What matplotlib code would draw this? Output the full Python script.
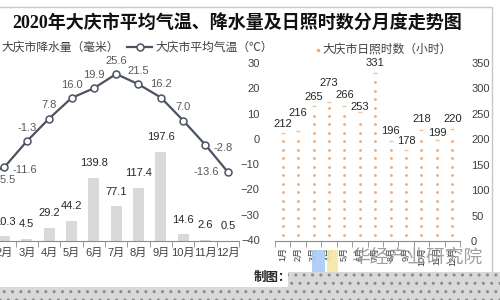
import numpy as np
import matplotlib.pyplot as plt
from matplotlib.patches import Rectangle
from matplotlib.lines import Line2D

plt.rcParams['font.family'] = ['Liberation Sans', 'Noto Sans CJK SC']

months = [f"{m}月" for m in range(1, 13)]
precip = [3.1, 10.3, 4.5, 29.2, 44.2, 139.8, 77.1, 117.4, 197.6, 14.6, 2.6, 0.5]
temp = [-15.5, -11.6, -1.3, 7.8, 16.0, 19.9, 25.6, 21.5, 16.2, 7.0, -2.8, -13.6]
sunshine = [212, 216, 265, 273, 266, 253, 331, 196, 178, 218, 199, 220]

# label placement for the temperature points
temp_pos = ["right", "right", "up", "up", "up", "up", "up", "up", "up", "up", "right", "left"]
sun_lift = [10, 19, 10, 20, 11, 6, 10, 11, 10, 12, 7, 11]

W, H = 500, 300
fig = plt.figure(figsize=(5, 3), dpi=100)
fig.patch.set_facecolor("white")


def fx(px):
    return px / W


def fy(py):
    return 1 - py / H


x = np.arange(12)

# ---------- left panel: precipitation + temperature ----------
ax1 = fig.add_axes([fx(-29), fy(241), fx(268), (241 - 63) / H])
ax1t = ax1.twinx()
ax1.bar(x, precip, width=0.5, color="#d9d9d9", zorder=1)
ax1.set_ylim(0, (241 - 63) / 0.45)
ax1.set_xlim(-0.5, 11.5)
for s in ["top", "left", "right"]:
    ax1.spines[s].set_visible(False)
ax1.spines["bottom"].set_color("#8c8c8c")
ax1.set_yticks([])
ax1.set_xticks(x)
ax1.set_xticklabels(months, fontsize=8, color="#404040")
ax1.set_xticks(np.arange(-0.5, 12, 1), minor=True)
ax1.tick_params(axis="x", which="major", length=0, pad=5)
ax1.tick_params(axis="x", which="minor", length=4, color="#8c8c8c")
for xi, v in zip(x, precip):
    if xi == 0:
        continue
    ax1.annotate(f"{v}", (xi, v), xytext=(0, 7), textcoords="offset points",
                 ha="center", va="bottom", fontsize=8, color="#262626")

ax1t.plot(x, temp, color="#4b5262", lw=1.6, marker="o", ms=5,
          mfc="white", mec="#4b5262", mew=1.1, zorder=3)
ax1t.set_ylim(-(241 - 138) / 2.5, (138 - 63) / 2.5)
ax1t.set_yticks([])
for s in ["top", "left", "right", "bottom"]:
    ax1t.spines[s].set_visible(False)
offs = {"up": ((0, 6), "center", "bottom"),
        "right": ((6, -2), "left", "center"),
        "left": ((-6, 0), "right", "center")}
for xi, v, p in zip(x, temp, temp_pos):
    (dx, dy), ha, va = offs[p]
    ax1t.annotate(f"{v}", (xi, v), xytext=(dx, dy), textcoords="offset points",
                  ha=ha, va=va, fontsize=8, color="#595959")

# ---------- right panel: sunshine hours ----------
ax2 = fig.add_axes([fx(275), fy(241), fx(185), (241 - 63) / H])
ax2t = ax2.twinx()
step = 16.7
for xi, v in zip(x, sunshine):
    ys = np.arange(12, v - 10, step)
    ax2.scatter(np.full_like(ys, xi, dtype=float), ys, s=4, color="#f0a873",
                linewidths=0, zorder=2)
    ax2.plot([xi], [v], marker="_", ms=3, color="#f3c39c", mew=1)
    ax2.annotate(f"{v}", (xi, v), xytext=(0, sun_lift[xi] * 0.72 - 4),
                 textcoords="offset points", ha="center", va="bottom",
                 fontsize=8, color="#262626")
ax2.set_ylim(0, 350)
ax2.set_xlim(-0.5, 11.5)
ax2.set_yticks([])
for s in ["top", "left", "right"]:
    ax2.spines[s].set_visible(False)
ax2.spines["bottom"].set_color("#8c8c8c")
ax2.set_xticks(x)
ax2.set_xticklabels(months, rotation=90, fontsize=6.5, color="#404040")
ax2.set_xticks(np.arange(-0.5, 12, 1), minor=True)
ax2.tick_params(axis="x", which="major", length=0, pad=4)
ax2.tick_params(axis="x", which="minor", length=4, color="#8c8c8c")

# hours on the right, temperature scale on the left
ax2t.set_ylim(0, 350)
ax2t.set_yticks(np.arange(0, 351, 50))
ax2t.tick_params(axis="y", length=0, pad=8, labelsize=8, labelcolor="#404040")
for s in ["top", "left", "right", "bottom"]:
    ax2t.spines[s].set_visible(False)
ax2l = ax2.secondary_yaxis("left", functions=(lambda h: h * 70.4 / 350 - 40.4,
                                               lambda t: (t + 40.4) * 350 / 70.4))
ax2l.set_yticks(np.arange(-40, 31, 10))
ax2l.tick_params(axis="y", length=0, pad=11, labelsize=8, labelcolor="#404040")
ax2l.spines["left"].set_visible(False)

# ---------- title, legends, frame ----------
fig.text(fx(12), fy(23), "2020年大庆市平均气温、降水量及日照时数分月度走势图",
         fontsize=13, fontweight="bold", color="#111111", va="center",
         family=["Liberation Serif", "Noto Sans CJK SC"])

fig.patches.append(Rectangle((fx(-9), fy(52)), fx(7), 7 / H, transform=fig.transFigure,
                             facecolor="#d9d9d9", edgecolor="none"))
fig.text(fx(1), fy(48), "大庆市降水量（毫米）", fontsize=8.5, color="#404040", va="center")
fig.add_artist(Line2D([fx(127), fx(152)], [fy(47), fy(47)], color="#4b5262", lw=1.6,
                      transform=fig.transFigure))
fig.add_artist(Line2D([fx(139.5)], [fy(47)], marker="o", ms=5, mfc="white",
                      mec="#4b5262", mew=1.1, transform=fig.transFigure))
fig.text(fx(155), fy(48), "大庆市平均气温（℃）", fontsize=8.5, color="#404040", va="center")
fig.add_artist(Line2D([fx(318)], [fy(50)], marker="o", ms=1.5, color="#f0a873",
                      transform=fig.transFigure))
fig.text(fx(322), fy(50), "大庆市日照时数（小时）", fontsize=8.5, color="#404040", va="center")

fig.add_artist(Line2D([0, fx(492), fx(492)], [fy(7), fy(7), fy(287)], color="#c8c8c8",
                      lw=1, transform=fig.transFigure))

# watermark
fig.patches.append(Rectangle((fx(312), fy(272)), fx(13), 22 / H, transform=fig.transFigure,
                             facecolor="#a9cbf2", edgecolor="none", alpha=0.9, zorder=5))
fig.patches.append(Rectangle((fx(327), fy(272)), fx(11), 22 / H, transform=fig.transFigure,
                             facecolor="#f6e7a6", edgecolor="none", alpha=0.9, zorder=5))
fig.text(fx(417), fy(258), "华经产业研究院", fontsize=13.5, color="#8f8f8f", alpha=0.85,
         ha="center", va="center", zorder=6)

# patterned bottom strip
plt.rcParams["hatch.color"] = "#8a8a8a"
fig.patches.append(Rectangle((0, 0), 1, 13 / H, transform=fig.transFigure,
                             facecolor="#d8d8d8", edgecolor="#8a8a8a", lw=0,
                             hatch="..", zorder=7))
fig.patches.append(Rectangle((fx(288), 13 / H), fx(212), 15 / H, transform=fig.transFigure,
                             facecolor="#d8d8d8", edgecolor="#8a8a8a", lw=0,
                             hatch="..", zorder=7))
fig.text(fx(254), fy(278), "制图：", fontsize=9, color="#262626", va="center",
         fontweight="bold", zorder=8)

fig.savefig("out.png", dpi=100)
